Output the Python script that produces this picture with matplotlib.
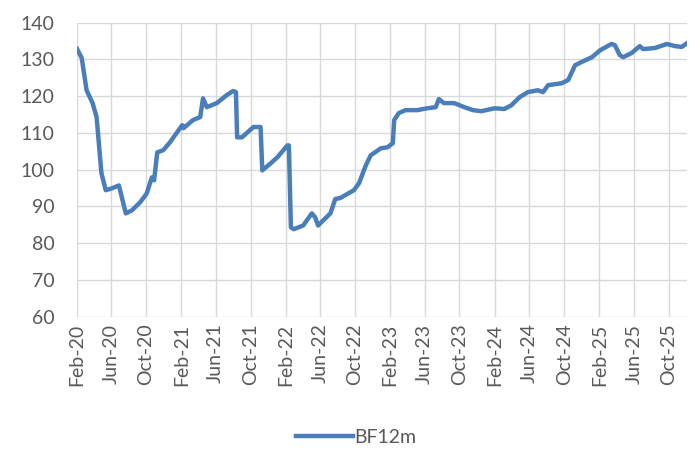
import matplotlib.pyplot as plt
import matplotlib.dates as mdates
import pandas as pd

plt.rcParams['font.family'] = ['Lato', 'DejaVu Sans']

dates = [
    '2020-02-03', '2020-02-19', '2020-03-07', '2020-03-28', '2020-04-11', '2020-04-28',
    '2020-05-13', '2020-06-03', '2020-06-28', '2020-07-22', '2020-08-12', '2020-09-10',
    '2020-10-03', '2020-10-21', '2020-10-29', '2020-11-09', '2020-11-30', '2020-12-24',
    '2021-02-04', '2021-02-09', '2021-03-14', '2021-04-08', '2021-04-18', '2021-05-01',
    '2021-06-05', '2021-07-10', '2021-08-01', '2021-08-11', '2021-08-15', '2021-09-01',
    '2021-10-11', '2021-11-05', '2021-11-11', '2021-12-10', '2022-01-03', '2022-02-07',
    '2022-02-12', '2022-02-19', '2022-03-01', '2022-04-03', '2022-05-03', '2022-05-15',
    '2022-05-25', '2022-06-12', '2022-07-07', '2022-07-24', '2022-08-11', '2022-09-09',
    '2022-09-27', '2022-10-15', '2022-11-08', '2022-11-25', '2022-12-30', '2023-01-23',
    '2023-02-10', '2023-02-15', '2023-03-03', '2023-03-27', '2023-05-07', '2023-06-11',
    '2023-07-10', '2023-07-21', '2023-08-08', '2023-09-13', '2023-10-18', '2023-11-17',
    '2023-12-16', '2024-02-01', '2024-03-06', '2024-03-30', '2024-04-28', '2024-05-27',
    '2024-07-01', '2024-07-19', '2024-08-06', '2024-09-22', '2024-10-15', '2024-11-08',
    '2024-12-01', '2025-01-06', '2025-02-04', '2025-03-15', '2025-03-27', '2025-04-13',
    '2025-04-25', '2025-05-24', '2025-06-22', '2025-07-04', '2025-08-14', '2025-09-25',
    '2025-10-24', '2025-11-16', '2025-12-04',
]
bf12m = [
    132.8, 130.4, 121.6, 118.1, 114.3, 99.0,
    94.4, 94.9, 95.7, 88.1, 88.9, 91.1,
    93.5, 97.9, 97.1, 104.7, 105.3, 107.5,
    112.1, 111.3, 113.5, 114.3, 119.4, 117.0,
    118.1, 120.3, 121.4, 121.1, 108.8, 108.8,
    111.6, 111.6, 99.8, 101.7, 103.4, 106.6,
    106.6, 84.3, 83.8, 84.8, 88.1, 87.0,
    84.8, 86.2, 88.1, 92.0, 92.3, 93.6,
    94.4, 96.3, 101.2, 103.9, 105.8, 106.1,
    107.2, 113.5, 115.4, 116.2, 116.2, 116.7,
    117.0, 119.2, 118.1, 118.1, 117.0, 116.2,
    115.9, 116.7, 116.5, 117.5, 119.7, 121.1,
    121.6, 121.1, 123.0, 123.5, 124.4, 128.4,
    129.3, 130.6, 132.5, 134.2, 133.9, 131.2,
    130.6, 131.7, 133.6, 132.8, 133.1, 134.2,
    133.6, 133.4, 134.4,
]
series_name = 'BF12m'

x = pd.to_datetime(dates)
ticks = pd.date_range('2020-02-01', '2025-10-01', freq='4MS')

fig = plt.figure(figsize=(6.96, 4.53), dpi=100)
ax = fig.add_axes([0.110, 0.301, 0.877, 0.649])

ax.plot(x, bf12m, color='#4a7ebb', linewidth=3.2, label=series_name, solid_joinstyle='round')

ax.set_ylim(60, 140)
ax.set_yticks(range(60, 141, 10))
ax.set_xlim(pd.Timestamp('2020-02-01'), pd.Timestamp('2025-12-04'))
ax.set_xticks(ticks)
ax.xaxis.set_major_formatter(mdates.DateFormatter('%b-%y'))
plt.setp(ax.get_xticklabels(), rotation=90)

ax.grid(True, color='#d9d9d9', linewidth=1)
ax.set_axisbelow(True)
for s in ax.spines.values():
    s.set_visible(False)
ax.tick_params(axis='both', length=0, labelsize=14, colors='#595959')
ax.tick_params(axis='y', pad=16)
ax.tick_params(axis='x', pad=5)

fig.legend(loc='center', bbox_to_anchor=(0.512, 0.035), frameon=False, fontsize=14,
           handlelength=2.9, handletextpad=0.1, labelcolor='#595959')

fig.savefig('out.png')
